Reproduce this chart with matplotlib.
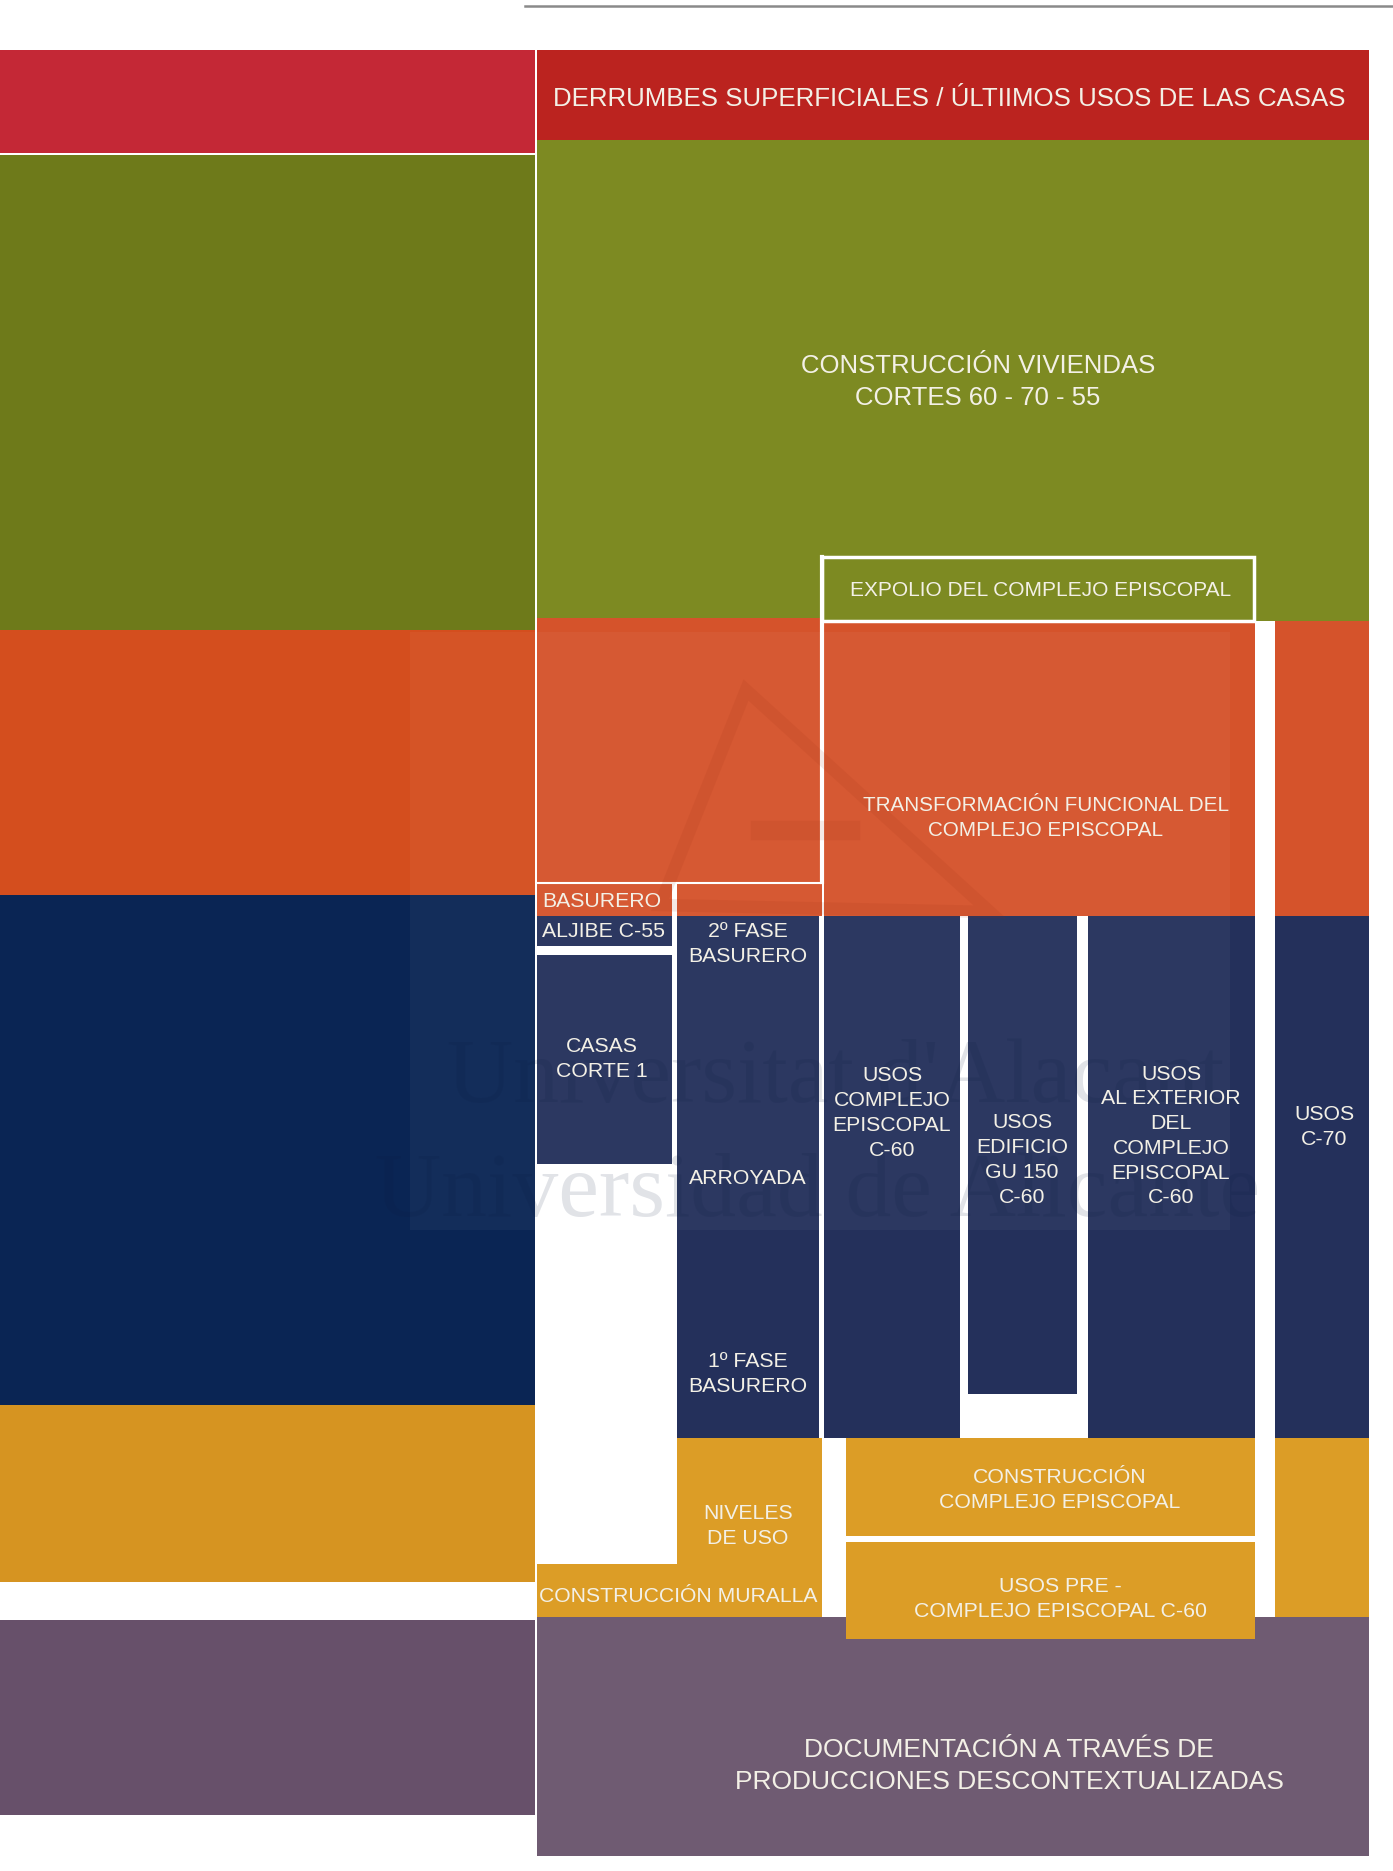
import matplotlib
matplotlib.use("Agg")
import matplotlib.pyplot as plt
from matplotlib.patches import Rectangle, Polygon

W, H = 1393, 1871

# ---- left colour strips (phase key) ----
STRIP_PHASE = ["red", "green", "orange", "navy", "yellow", "purple"]
STRIP_TOP = [50, 155, 630, 895, 1405, 1620]
STRIP_BOT = [153, 630, 895, 1405, 1582, 1815]
STRIP_X1 = 535

# ---- main blocks: phase, x0, x1, y0, y1 ----
BLOCK_PHASE = ["red", "green", "orange", "orange",
               "navy", "navy", "navy", "navy", "navy", "navy", "navy",
               "purple", "yellow", "yellow", "yellow", "yellow", "yellow"]
BLOCK_X0 = [537, 537, 537, 824,
            537, 537, 677, 824, 968, 1088, 1275,
            537, 677, 537, 846, 846, 1275]
BLOCK_X1 = [1369, 1369, 822, 1369,
            672, 672, 819, 960, 1077, 1255, 1369,
            1369, 822, 822, 1255, 1255, 1369]
BLOCK_Y0 = [50, 140, 618, 621,
            916, 955, 916, 916, 916, 916, 916,
            1617, 1438, 1564, 1438, 1542, 1438]
BLOCK_Y1 = [140, 621, 916, 916,
            946, 1164, 1438, 1438, 1394, 1438, 1438,
            1856, 1617, 1617, 1536, 1639, 1617]

# ---- labels: text, x, y, size ----
LABELS = [
    "DERRUMBES SUPERFICIALES / ÚLTIIMOS USOS DE LAS CASAS",
    "CONSTRUCCIÓN VIVIENDAS\nCORTES 60 - 70 - 55",
    "EXPOLIO DEL COMPLEJO EPISCOPAL",
    "TRANSFORMACIÓN FUNCIONAL DEL\nCOMPLEJO EPISCOPAL",
    "BASURERO",
    "ALJIBE C-55",
    "2º FASE\nBASURERO",
    "CASAS\nCORTE 1",
    "USOS\nCOMPLEJO\nEPISCOPAL\nC-60",
    "USOS\nEDIFICIO\nGU 150\nC-60",
    "USOS\nAL EXTERIOR\nDEL\nCOMPLEJO\nEPISCOPAL\nC-60",
    "USOS\nC-70",
    "ARROYADA",
    "1º FASE\nBASURERO",
    "NIVELES\nDE USO",
    "CONSTRUCCIÓN MURALLA",
    "CONSTRUCCIÓN\nCOMPLEJO EPISCOPAL",
    "USOS PRE -\nCOMPLEJO EPISCOPAL C-60",
    "DOCUMENTACIÓN A TRAVÉS DE\nPRODUCCIONES DESCONTEXTUALIZADAS",
]
LABEL_X = [949, 978, 1041, 1046, 602, 603, 748, 602, 892, 1022, 1171, 1324,
           748, 748, 748, 678, 1060, 1060, 1009]
LABEL_Y = [99, 382, 590, 818, 901, 931, 944, 1059, 1113, 1160, 1136, 1127,
           1178, 1374, 1526, 1596, 1490, 1599, 1766]
LABEL_SIZE = [18.6, 18.5, 15, 14.9, 15.3, 15.3, 15.3, 15.3, 15.3, 15.3, 15.3, 15.3,
              15.3, 15.3, 15.3, 15.2, 15.3, 15.3, 19]

MAIN_COLORS = {"red": "#BB231F", "green": "#7D8A22", "orange": "#D5532B",
               "navy": "#24305B", "purple": "#6F5B72", "yellow": "#DC9D26"}
STRIP_COLORS = {"red": "#C42836", "green": "#6E7A1A", "orange": "#D44E1E",
                "navy": "#0A2554", "purple": "#67506A", "yellow": "#D69421"}
TEXT_COLOR = "#F3F0E6"

plt.rcParams["font.family"] = ["Liberation Sans", "DejaVu Sans"]

fig = plt.figure(figsize=(W / 100, H / 100), dpi=100)
ax = fig.add_axes([0, 0, 1, 1])
ax.set_xlim(0, W)
ax.set_ylim(H, 0)
ax.axis("off")

# top rule
ax.plot([525, W], [6, 6], color="#8A8A8A", lw=1.8, zorder=1)

for ph, y0, y1 in zip(STRIP_PHASE, STRIP_TOP, STRIP_BOT):
    ax.add_patch(Rectangle((0, y0), STRIP_X1, y1 - y0, color=STRIP_COLORS[ph], lw=0, zorder=1))

for ph, x0, x1, y0, y1 in zip(BLOCK_PHASE, BLOCK_X0, BLOCK_X1, BLOCK_Y0, BLOCK_Y1):
    ax.add_patch(Rectangle((x0, y0), x1 - x0, y1 - y0, color=MAIN_COLORS[ph], lw=0, zorder=2))

# white separators / outline of the expolio box
ax.add_patch(Rectangle((822, 557), 432, 64, fill=False, ec="white", lw=2.5, zorder=3))
ax.plot([822, 822], [557, 882], color="white", lw=3, zorder=3)
ax.plot([537, 822], [882.5, 882.5], color="white", lw=1.5, zorder=3)
ax.add_patch(Rectangle((1255, 621), 20, 996, color="white", lw=0, zorder=3))
ax.add_patch(Rectangle((672, 884), 5, 680, color="white", lw=0, zorder=3))

# faint watermark
ax.add_patch(Rectangle((410, 632), 820, 598, color="white", alpha=0.04, lw=0, zorder=4))
ax.add_patch(Polygon([[746, 690], [660, 905], [990, 912]], closed=True, fill=False,
                     ec="#9A2A10", alpha=0.10, lw=9, zorder=4))
ax.plot([760, 850], [830, 830], color="#9A2A10", alpha=0.10, lw=14, zorder=4)
ax.text(836, 1080, "Universitat d'Alacant", family=["Liberation Serif", "DejaVu Serif"],
        fontsize=66, color="#0A1A40", alpha=0.12, ha="center", va="center", zorder=4)
ax.text(818, 1194, "Universidad de Alicante", family=["Liberation Serif", "DejaVu Serif"],
        fontsize=66, color="#0A1A40", alpha=0.12, ha="center", va="center", zorder=4)

for txt, x, y, s in zip(LABELS, LABEL_X, LABEL_Y, LABEL_SIZE):
    ax.text(x, y, txt, fontsize=s, color=TEXT_COLOR, ha="center", va="center",
            multialignment="center", linespacing=1.38, zorder=5)

fig.savefig("out.png", dpi=100)
